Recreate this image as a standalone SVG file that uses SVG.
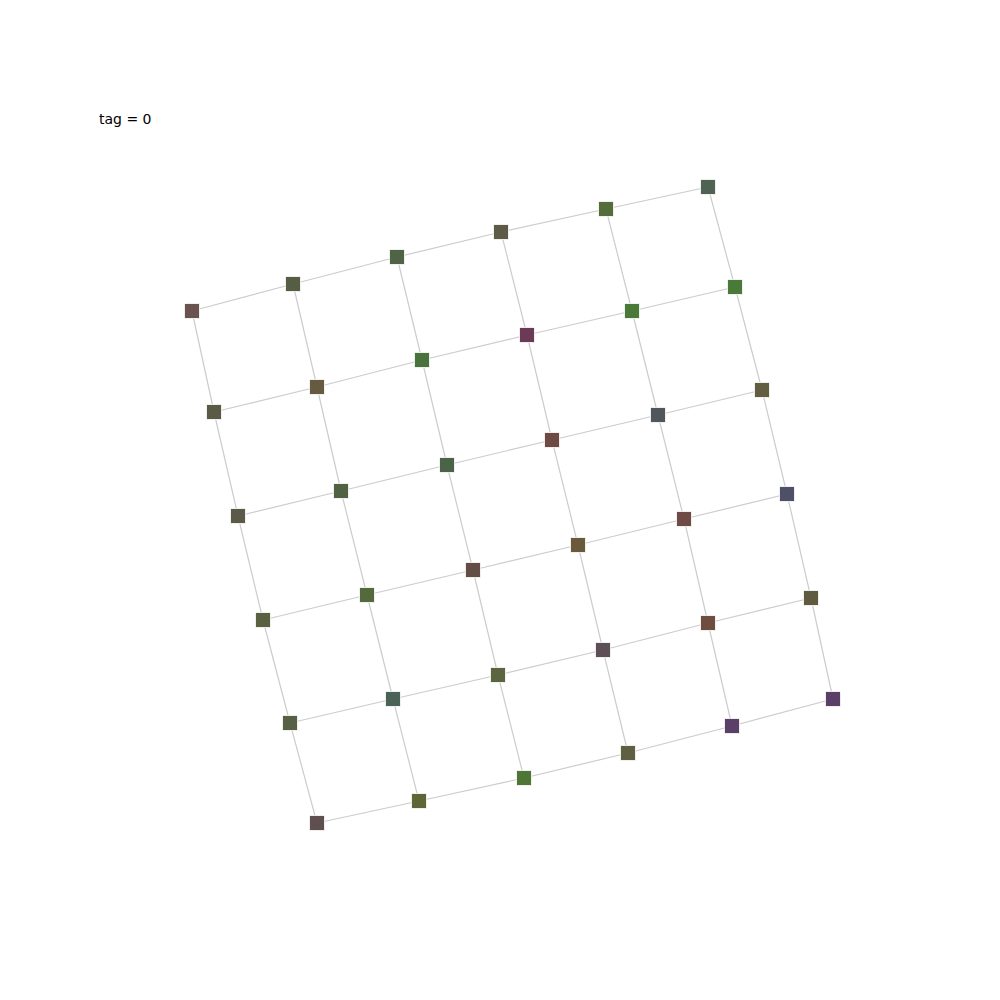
<svg xmlns="http://www.w3.org/2000/svg" width="1000" height="1000" viewBox="0 0 1000 1000">
<style>
.e{stroke:#cccccc;stroke-width:1.2;fill:none}
.n rect{stroke:#ffffff;stroke-width:0.8}
text{font-family:"DejaVu Sans",sans-serif;font-size:14px;fill:#000}
</style>
<rect width="1000" height="1000" fill="#ffffff"/>
<text x="99" y="124">tag = 0</text>
<g id="edges" class="e">
<polyline points="192,311 293,284 397,257 501,232 606,209 708,187"/>
<polyline points="214,412 317,387 422,360 527,335 632,311 735,287"/>
<polyline points="238,516 341,491 447,465 552,440 658,415 762,390"/>
<polyline points="263,620 367,595 473,570 578,545 684,519 787,494"/>
<polyline points="290,723 393,699 498,675 603,650 708,623 811,598"/>
<polyline points="317,823 419,801 524,778 628,753 732,726 833,699"/>
<polyline points="192,311 214,412 238,516 263,620 290,723 317,823"/>
<polyline points="293,284 317,387 341,491 367,595 393,699 419,801"/>
<polyline points="397,257 422,360 447,465 473,570 498,675 524,778"/>
<polyline points="501,232 527,335 552,440 578,545 603,650 628,753"/>
<polyline points="606,209 632,311 658,415 684,519 708,623 732,726"/>
<polyline points="708,187 735,287 762,390 787,494 811,598 833,699"/>
</g>
<g class="n">
<g id="n0_0"><rect x="184.5" y="303.5" width="15" height="15" fill="#6a5250"/></g>
<g id="n0_1"><rect x="285.5" y="276.5" width="15" height="15" fill="#555d45"/></g>
<g id="n0_2"><rect x="389.5" y="249.5" width="15" height="15" fill="#4f6347"/></g>
<g id="n0_3"><rect x="493.5" y="224.5" width="15" height="15" fill="#5e5a48"/></g>
<g id="n0_4"><rect x="598.5" y="201.5" width="15" height="15" fill="#546d3a"/></g>
<g id="n0_5"><rect x="700.5" y="179.5" width="15" height="15" fill="#4f6253"/></g>
<g id="n1_0"><rect x="206.5" y="404.5" width="15" height="15" fill="#5b5a45"/></g>
<g id="n1_1"><rect x="309.5" y="379.5" width="15" height="15" fill="#665a40"/></g>
<g id="n1_2"><rect x="414.5" y="352.5" width="15" height="15" fill="#4a723d"/></g>
<g id="n1_3"><rect x="519.5" y="327.5" width="15" height="15" fill="#6b3a57"/></g>
<g id="n1_4"><rect x="624.5" y="303.5" width="15" height="15" fill="#4a7a3a"/></g>
<g id="n1_5"><rect x="727.5" y="279.5" width="15" height="15" fill="#4a7a3a"/></g>
<g id="n2_0"><rect x="230.5" y="508.5" width="15" height="15" fill="#5b5a48"/></g>
<g id="n2_1"><rect x="333.5" y="483.5" width="15" height="15" fill="#4f6343"/></g>
<g id="n2_2"><rect x="439.5" y="457.5" width="15" height="15" fill="#4a6349"/></g>
<g id="n2_3"><rect x="544.5" y="432.5" width="15" height="15" fill="#6e4a45"/></g>
<g id="n2_4"><rect x="650.5" y="407.5" width="15" height="15" fill="#50565a"/></g>
<g id="n2_5"><rect x="754.5" y="382.5" width="15" height="15" fill="#625f40"/></g>
<g id="n3_0"><rect x="255.5" y="612.5" width="15" height="15" fill="#5a6140"/></g>
<g id="n3_1"><rect x="359.5" y="587.5" width="15" height="15" fill="#556a3c"/></g>
<g id="n3_2"><rect x="465.5" y="562.5" width="15" height="15" fill="#624d47"/></g>
<g id="n3_3"><rect x="570.5" y="537.5" width="15" height="15" fill="#6a5a3c"/></g>
<g id="n3_4"><rect x="676.5" y="511.5" width="15" height="15" fill="#6e4b44"/></g>
<g id="n3_5"><rect x="779.5" y="486.5" width="15" height="15" fill="#4e5068"/></g>
<g id="n4_0"><rect x="282.5" y="715.5" width="15" height="15" fill="#566044"/></g>
<g id="n4_1"><rect x="385.5" y="691.5" width="15" height="15" fill="#4a6356"/></g>
<g id="n4_2"><rect x="490.5" y="667.5" width="15" height="15" fill="#5b6540"/></g>
<g id="n4_3"><rect x="595.5" y="642.5" width="15" height="15" fill="#5e4f56"/></g>
<g id="n4_4"><rect x="700.5" y="615.5" width="15" height="15" fill="#704e3f"/></g>
<g id="n4_5"><rect x="803.5" y="590.5" width="15" height="15" fill="#5f5a40"/></g>
<g id="n5_0"><rect x="309.5" y="815.5" width="15" height="15" fill="#5f4f4f"/></g>
<g id="n5_1"><rect x="411.5" y="793.5" width="15" height="15" fill="#5f6535"/></g>
<g id="n5_2"><rect x="516.5" y="770.5" width="15" height="15" fill="#4d7637"/></g>
<g id="n5_3"><rect x="620.5" y="745.5" width="15" height="15" fill="#5f5f42"/></g>
<g id="n5_4"><rect x="724.5" y="718.5" width="15" height="15" fill="#5a4068"/></g>
<g id="n5_5"><rect x="825.5" y="691.5" width="15" height="15" fill="#5a4068"/></g>
</g>
</svg>
